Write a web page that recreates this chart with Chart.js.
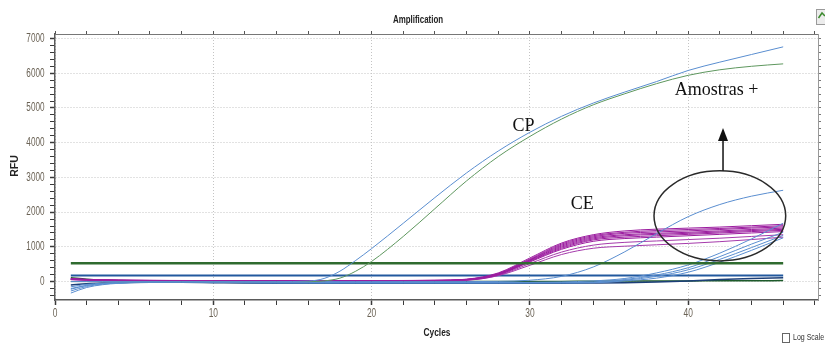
<!DOCTYPE html>
<html>
<head>
<meta charset="utf-8">
<script src="https://cdn.jsdelivr.net/npm/chart.js@4.4.1/dist/chart.umd.min.js"></script>
<style>
  html, body { margin: 0; padding: 0; background: #fff; }
  #wrap { width: 825px; height: 343px; }
</style>
</head>
<body>
<div id="wrap"><canvas id="chart" width="825" height="343"></canvas></div>
<script>
var cycles = [1, 2, 3, 4, 6, 8, 10, 12, 14, 16, 17, 18, 19, 20, 22, 24, 26, 28, 30, 32, 34, 36, 38, 40, 42, 44, 46];
var flatCycles = [1, 46];

// positive control (CP)
var cpBlue  = [0, 0, 0, 0, 0, 0, 0, 0, 0, 15, 90, 300, 610, 950, 1680, 2420, 3130, 3760, 4300, 4760, 5140, 5460, 5760, 6080, 6320, 6540, 6760];
var cpGreen = [0, 0, 0, 0, 0, 0, 0, 0, 0, 0, 20, 100, 300, 580, 1300, 2100, 2900, 3600, 4180, 4680, 5090, 5410, 5700, 5940, 6100, 6200, 6270];

// endogenous control (CE), magenta bundle
var ce1 = [90, 65, 50, 42, 36, 32, 30, 30, 30, 30, 30, 30, 30, 30, 32, 38, 70, 250, 680, 1110, 1350, 1460, 1510, 1540, 1570, 1610, 1650];
var ce2 = [80, 60, 46, 40, 34, 30, 28, 28, 28, 28, 28, 28, 28, 28, 30, 35, 64, 235, 650, 1080, 1320, 1420, 1470, 1500, 1530, 1570, 1610];
var ce3 = [75, 56, 44, 38, 33, 30, 28, 28, 28, 28, 28, 28, 28, 28, 30, 34, 60, 225, 630, 1050, 1290, 1390, 1430, 1460, 1500, 1540, 1575];
var ce4 = [70, 52, 42, 36, 32, 29, 27, 27, 27, 27, 27, 27, 27, 27, 29, 33, 56, 218, 615, 1020, 1260, 1350, 1390, 1420, 1460, 1500, 1540];
var ce5 = [66, 50, 40, 35, 31, 28, 27, 27, 27, 27, 27, 27, 27, 27, 28, 32, 53, 210, 600, 990, 1230, 1320, 1360, 1390, 1430, 1470, 1505];
var ce6 = [62, 48, 38, 33, 30, 27, 26, 26, 26, 26, 26, 26, 26, 26, 28, 31, 50, 202, 585, 960, 1200, 1280, 1320, 1360, 1400, 1440, 1475];
var ce7 = [58, 45, 36, 32, 29, 27, 26, 26, 26, 26, 26, 26, 26, 26, 27, 30, 47, 195, 565, 930, 1160, 1240, 1280, 1320, 1360, 1400, 1440];
var ce8 = [55, 42, 34, 30, 28, 26, 25, 25, 25, 25, 25, 25, 25, 25, 26, 29, 42, 170, 470, 780, 960, 1020, 1060, 1100, 1150, 1210, 1280];
var ce9 = [60, 46, 37, 33, 30, 27, 26, 26, 26, 26, 26, 26, 26, 26, 27, 30, 44, 180, 520, 850, 1050, 1130, 1170, 1210, 1250, 1300, 1350];

// positive samples (blue)
var sampleHigh = [-200, -110, -60, -35, -15, -5, 0, 0, 0, 0, 0, 0, 0, 0, 0, 0, 0, 5, 40, 150, 420, 860, 1380, 1870, 2220, 2460, 2630];
var sample1 = [-330, -170, -90, -50, -20, -10, -10, -15, -20, -20, -20, -20, -20, -20, -20, -20, -20, -20, -20, -10, 20, 90, 250, 480, 820, 1230, 1680];
var sample2 = [-270, -140, -75, -40, -15, -10, -15, -20, -25, -30, -30, -30, -30, -30, -30, -30, -30, -30, -30, -25, -10, 60, 190, 400, 720, 1080, 1420];
var sample3 = [-220, -110, -60, -35, -15, -10, -20, -30, -35, -35, -35, -35, -35, -35, -35, -35, -35, -35, -35, -35, -25, 40, 150, 340, 640, 980, 1330];
var sample4 = [-150, -80, -45, -25, -10, -10, -20, -30, -40, -40, -40, -40, -40, -40, -40, -40, -40, -40, -40, -40, -35, 20, 100, 270, 560, 900, 1260];

// negatives near the baseline
var negNavy  = [-100, -60, -40, -30, -20, -20, -30, -40, -45, -45, -45, -45, -45, -45, -45, -45, -45, -45, -45, -45, -40, -30, -10, 20, 60, 90, 110];
var negGreen = [110, 70, 45, 30, 15, 5, 0, 0, 0, 0, 0, 0, 0, 0, 0, 0, 0, 0, 0, 5, 10, 15, 20, 20, 25, 25, 30];

// flat lines
var thresholdLine = [530, 530];
var blueFlat = [175, 175];

// axis labels
var xLabels = [0, 10, 20, 30, 40];
var yLabels = [0, 1000, 2000, 3000, 4000, 5000, 6000, 7000];

// annotations (data coordinates)
var cpText = { x: 29.6, y: 4460, text: "CP" };
var ceText = { x: 33.3, y: 2240, text: "CE" };
var samplesText = { x: 41.8, y: 5500, text: "Amostras +" };
var ring = { x: 42.0, y: 1893, rx: 4.16, ry: 1297 };
var arrow = { x: 42.2, from: 3190, to: 4420 };

function pts(xs, ys) {
  return xs.map(function (c, i) { return { x: c, y: ys[i] }; });
}

function line(values, color, width, xs) {
  return {
    data: pts(xs || cycles, values),
    borderColor: color,
    borderWidth: width || 1,
    pointRadius: 0,
    cubicInterpolationMode: "monotone",
    fill: false
  };
}

var lightBlue = "#5a8ed0";
var magenta = "#9b1c9f";

var datasets = [
  line(cpBlue, lightBlue),
  line(cpGreen, "#5e975e"),
  line(thresholdLine, "#2f6b2f", 2.5, flatCycles),
  line(sampleHigh, lightBlue),
  line(sample1, lightBlue),
  line(sample2, lightBlue),
  line(sample3, lightBlue),
  line(sample4, lightBlue),
  line(ce1, magenta),
  line(ce2, magenta),
  line(ce3, magenta),
  line(ce4, magenta),
  line(ce5, magenta),
  line(ce6, magenta),
  line(ce7, magenta),
  line(ce8, "#a53aab"),
  line(ce9, "#a53aab"),
  line(blueFlat, "#22599e", 2, flatCycles),
  line(negNavy, "#1c3f78", 1.5),
  line(negGreen, "#1d5a2a", 1.5)
];

// minor ticks every 2 cycles / 200 RFU
var xTickValues = [];
for (var i = 0; i <= 48; i += 2) xTickValues.push(i);
var yTickValues = [];
for (var j = -400; j <= 7000; j += 200) yTickValues.push(j);

function squished(ctx, text, x, y, sx, align) {
  ctx.save();
  ctx.translate(x, y);
  ctx.scale(sx, 1);
  ctx.textAlign = align;
  ctx.fillText(text, 0, 0);
  ctx.restore();
}

var decor = {
  id: "decor",
  afterDatasetsDraw: function (chart) {
    var ctx = chart.ctx, xs = chart.scales.x, ys = chart.scales.y;
    ctx.save();
    // ring around the positive samples
    var cx = xs.getPixelForValue(ring.x), cy = ys.getPixelForValue(ring.y);
    var rx = xs.getPixelForValue(ring.x + ring.rx) - cx;
    var ry = cy - ys.getPixelForValue(ring.y + ring.ry);
    ctx.beginPath();
    ctx.ellipse(cx, cy, rx, ry, 0, 0, Math.PI * 2);
    ctx.strokeStyle = "#2a2a2a";
    ctx.lineWidth = 1.5;
    ctx.stroke();

    // arrow up to the label
    var ax = xs.getPixelForValue(arrow.x);
    var a0 = ys.getPixelForValue(arrow.from), a1 = ys.getPixelForValue(arrow.to);
    ctx.beginPath();
    ctx.moveTo(ax, a0);
    ctx.lineTo(ax, a1 + 10);
    ctx.strokeStyle = "#111";
    ctx.lineWidth = 1.5;
    ctx.stroke();
    ctx.beginPath();
    ctx.moveTo(ax, a1);
    ctx.lineTo(ax - 5, a1 + 13);
    ctx.lineTo(ax + 5, a1 + 13);
    ctx.closePath();
    ctx.fillStyle = "#111";
    ctx.fill();

    ctx.font = '18px "Liberation Serif", "Times New Roman", serif';
    ctx.fillStyle = "#111";
    ctx.textAlign = "center";
    ctx.textBaseline = "middle";
    [cpText, ceText, samplesText].forEach(function (t) {
      ctx.fillText(t.text, xs.getPixelForValue(t.x), ys.getPixelForValue(t.y));
    });
    ctx.restore();
  },
  afterDraw: function (chart) {
    var ctx = chart.ctx, xs = chart.scales.x, ys = chart.scales.y;
    ctx.save();
    ctx.textBaseline = "middle";
    ctx.fillStyle = "#6b6356";
    ctx.font = '12px "Liberation Sans", Arial, sans-serif';
    yLabels.forEach(function (v) {
      squished(ctx, String(v), 44.5, ys.getPixelForValue(v), 0.68, "right");
    });
    xLabels.forEach(function (v) {
      squished(ctx, String(v), xs.getPixelForValue(v), 314, 0.7, "center");
    });

    ctx.fillStyle = "#222";
    ctx.font = 'bold 11px "Liberation Sans", Arial, sans-serif';
    squished(ctx, "Amplification", 418, 20, 0.72, "center");
    squished(ctx, "Cycles", 437, 333, 0.76, "center");

    ctx.save();
    ctx.translate(15, 166);
    ctx.rotate(-Math.PI / 2);
    ctx.font = 'bold 10.5px "Liberation Sans", Arial, sans-serif';
    ctx.textAlign = "center";
    ctx.fillText("RFU", 0, 0);
    ctx.restore();

    // log scale checkbox
    ctx.strokeStyle = "#666";
    ctx.lineWidth = 1;
    ctx.fillStyle = "#fff";
    ctx.fillRect(782.5, 333.5, 7, 9);
    ctx.strokeRect(782.5, 333.5, 7, 9);
    ctx.fillStyle = "#333";
    ctx.font = '9px "Liberation Sans", Arial, sans-serif';
    squished(ctx, "Log Scale", 793, 338, 0.78, "left");

    // small toolbar icon, top right
    ctx.fillStyle = "#ececec";
    ctx.fillRect(816.5, 9.5, 10, 15);
    ctx.strokeStyle = "#9a9a9a";
    ctx.strokeRect(816.5, 9.5, 10, 15);
    ctx.strokeStyle = "#3c8a2e";
    ctx.lineWidth = 1.5;
    ctx.beginPath();
    ctx.moveTo(818.5, 18);
    ctx.lineTo(822, 13);
    ctx.lineTo(825, 16);
    ctx.stroke();
    ctx.restore();
  }
};

function majorColor(step) {
  return function (c) {
    return c.tick && c.tick.value % step === 0 ? "#c4c4c4" : "rgba(0,0,0,0)";
  };
}
function majorWidth(step) {
  return function (c) {
    return c.tick && c.tick.value % step === 0 ? 1.5 : 1;
  };
}

var chart = new Chart(document.getElementById("chart"), {
  type: "line",
  data: { datasets: datasets },
  plugins: [decor],
  options: {
    responsive: false,
    animation: false,
    devicePixelRatio: 1,
    layout: { padding: { top: 31, right: 3, left: 0, bottom: 0 } },
    plugins: { legend: { display: false }, tooltip: { enabled: false }, title: { display: false } },
    scales: {
      x: {
        type: "linear", position: "bottom", min: 0, max: 48.2,
        afterBuildTicks: function (s) { s.ticks = xTickValues.map(function (v) { return { value: v }; }); },
        afterFit: function (s) { s.height = 43; },
        ticks: { display: false },
        grid: { color: majorColor(10), tickColor: "#3a3a3a", tickLength: 5, tickWidth: majorWidth(10), lineWidth: 1 },
        border: { color: "#5a5a5a", width: 1.5, dash: [1, 2] }
      },
      y: {
        type: "linear", position: "left", min: -530, max: 7130,
        afterBuildTicks: function (s) { s.ticks = yTickValues.map(function (v) { return { value: v }; }); },
        afterFit: function (s) { s.width = 55; },
        ticks: { display: false },
        grid: { color: majorColor(1000), tickColor: "#3a3a3a", tickLength: 5, tickWidth: majorWidth(1000), lineWidth: 1 },
        border: { color: "#5a5a5a", width: 1.5, dash: [1, 2] }
      },
      x2: {
        type: "linear", position: "top", min: 0, max: 48.2,
        afterBuildTicks: function (s) { s.ticks = xTickValues.map(function (v) { return { value: v }; }); },
        afterFit: function (s) { s.height = 3; },
        ticks: { display: false },
        grid: { drawOnChartArea: false, tickColor: "#555", tickLength: 3 },
        border: { color: "#777", width: 1 }
      },
      y2: {
        type: "linear", position: "right", min: -530, max: 7130,
        afterBuildTicks: function (s) { s.ticks = yTickValues.map(function (v) { return { value: v }; }); },
        afterFit: function (s) { s.width = 4; },
        ticks: { display: false },
        grid: { drawOnChartArea: false, tickColor: "#777", tickLength: 3 },
        border: { color: "#999", width: 1 }
      }
    }
  }
});
</script>
</body>
</html>
